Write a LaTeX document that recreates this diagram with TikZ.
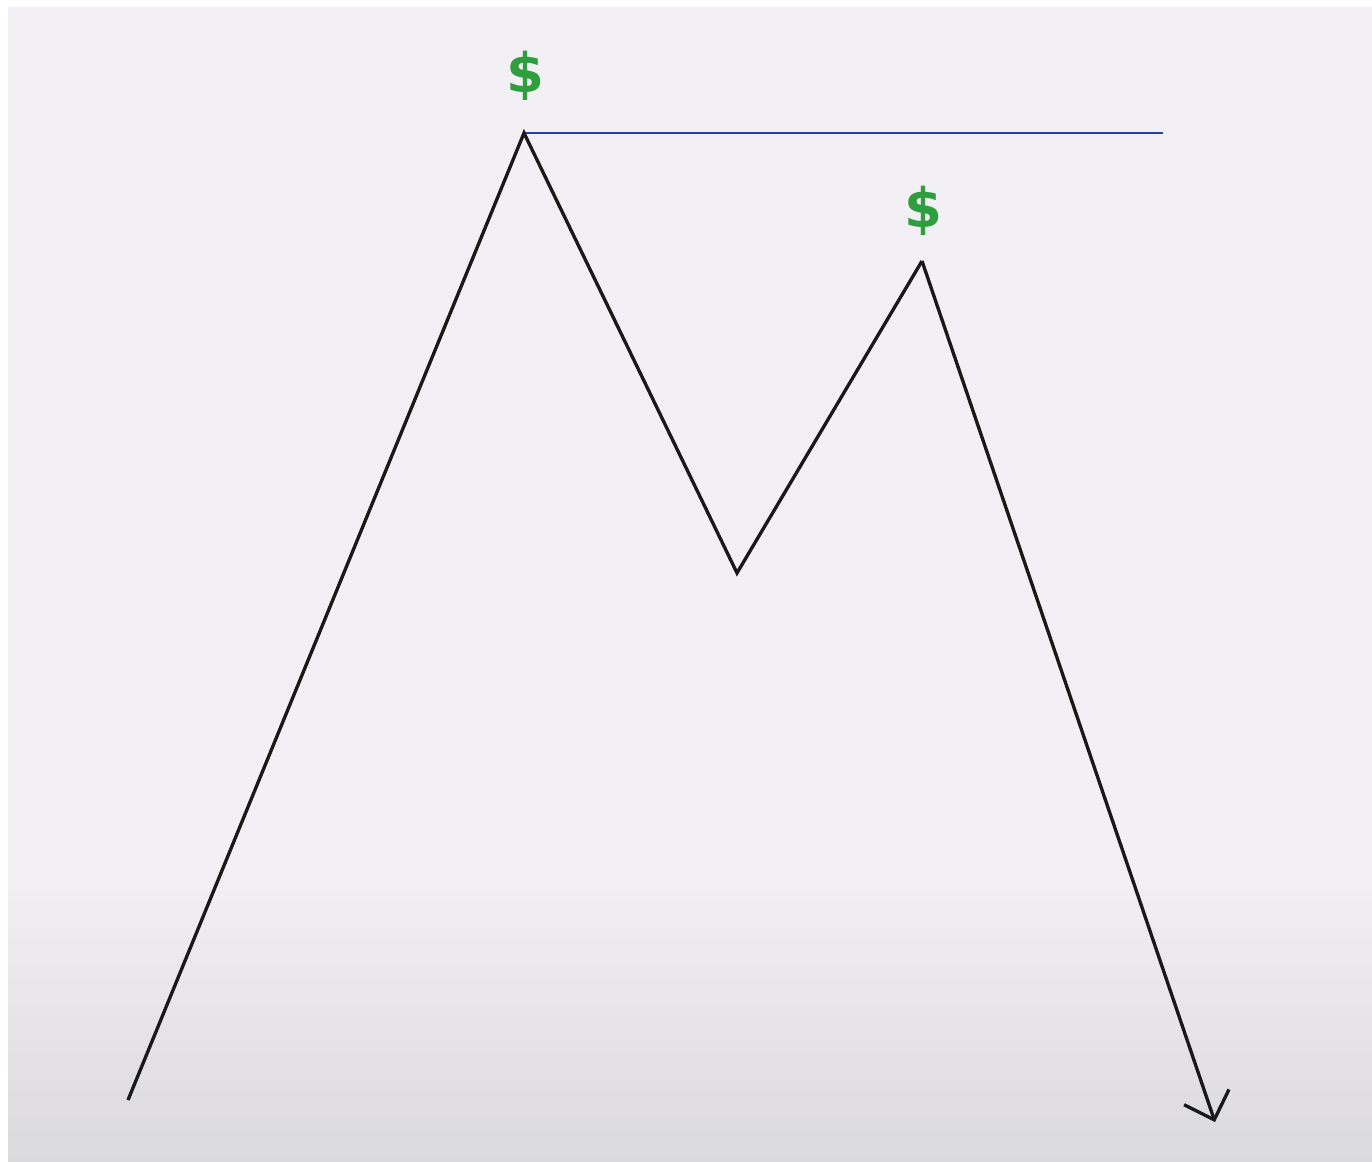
\documentclass[tikz,border=0pt]{standalone}
\usepackage{fontspec}
\setsansfont{DejaVu Sans}
\usetikzlibrary{arrows.meta,positioning}
\definecolor{bgtop}{HTML}{F3F0F5}
\definecolor{bgbot}{HTML}{DAD9DB}
\definecolor{pricegreen}{HTML}{2E9E3E}
\definecolor{levelblue}{HTML}{2B3FA8}

\begin{document}
\begin{tikzpicture}[
  x=0.02cm, y=-0.02cm,
  price/.style={line width=1.9pt, black!90, line join=miter},
  level/.style={line width=1.1pt, levelblue},
  cash/.style={text=pricegreen, font=\sffamily\bfseries\fontsize{31}{33}\selectfont, inner sep=0pt},
  arr/.style={-{Straight Barb[length=0.48cm, width=0.95cm, line width=1.9pt]}}
]
\useasboundingbox (0,0) rectangle (1372,1161);
% background
\fill[white] (0,0) rectangle (1372,1161);
\fill[bgtop] (8,7) rectangle (1372,1161);
\shade[top color=bgtop, bottom color=bgbot] (8,870) rectangle (1372,1161);

% swing points
\coordinate (start) at (128,1100);
\coordinate (top1) at (524,133);
\coordinate (low) at (737,573);
\coordinate (top2) at (922,261);
\coordinate (stop) at (1215,1122);
\coordinate (lvl) at (1163,133);

\node[cash] (cash1) at (525,76) {\$};
\node[cash] (cash2) at (923,211) {\$};

\draw[level] (top1) -- (lvl);
\draw[price] (start) -- (top1) -- (low) -- (top2);
\draw[price, arr] (top2) -- (stop);
\end{tikzpicture}
\end{document}
